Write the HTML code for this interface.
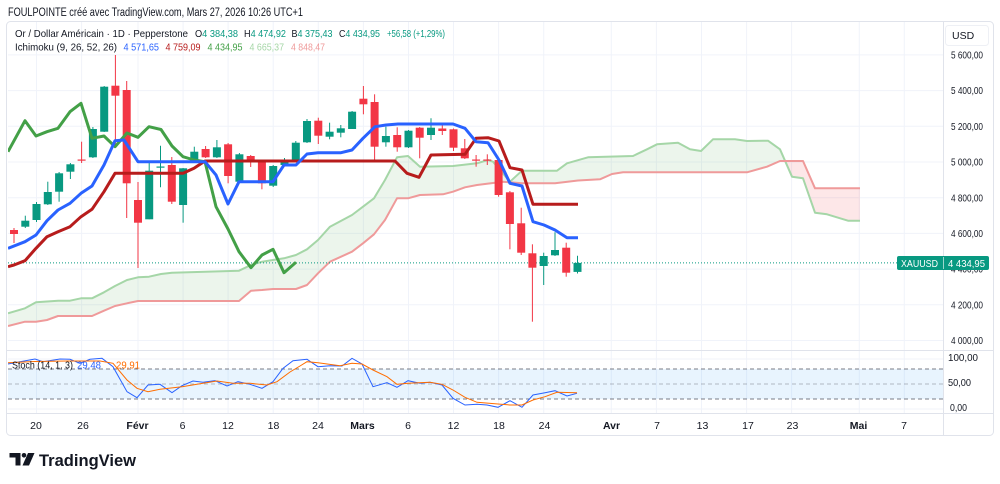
<!DOCTYPE html>
<html><head><meta charset="utf-8"><style>
html,body{margin:0;padding:0;background:#fff;}
svg{display:block;}
text{font-family:"Liberation Sans",sans-serif;}
</style></head><body>
<svg width="1000" height="484" viewBox="0 0 1000 484" xmlns="http://www.w3.org/2000/svg">
<rect x="0" y="0" width="1000" height="484" fill="#fff"/>
<!-- header -->
<text x="8" y="16" font-size="11.5" fill="#131722" textLength="295" lengthAdjust="spacingAndGlyphs">FOULPOINTE créé avec TradingView.com, Mars 27, 2026 10:26 UTC+1</text>
<!-- frame -->
<rect x="6.5" y="21.5" width="987" height="414" rx="4" fill="#fff" stroke="#e0e3eb"/>
<defs>
<clipPath id="mp"><rect x="8" y="22" width="935" height="328"/></clipPath>
<clipPath id="sp"><rect x="8" y="351" width="935" height="62"/></clipPath>
<clipPath id="gl"><rect x="0" y="0" width="786" height="484"/></clipPath>
<clipPath id="rl"><rect x="786" y="0" width="300" height="484"/></clipPath>
</defs>
<!-- grid -->
<g stroke="#f0f3fa" stroke-width="1">
<line x1="8" x2="943" y1="54.9" y2="54.9"/><line x1="8" x2="943" y1="90.6" y2="90.6"/><line x1="8" x2="943" y1="126.3" y2="126.3"/><line x1="8" x2="943" y1="162" y2="162"/><line x1="8" x2="943" y1="197.7" y2="197.7"/><line x1="8" x2="943" y1="233.4" y2="233.4"/><line x1="8" x2="943" y1="269.1" y2="269.1"/><line x1="8" x2="943" y1="304.8" y2="304.8"/><line x1="8" x2="943" y1="340.5" y2="340.5"/>
<line x1="8" x2="943" y1="359" y2="359"/><line x1="8" x2="943" y1="409" y2="409"/>
<line x1="36.5" x2="36.5" y1="22" y2="413"/><line x1="81.6" x2="81.6" y1="22" y2="413"/><line x1="138" x2="138" y1="22" y2="413"/><line x1="183.1" x2="183.1" y1="22" y2="413"/><line x1="228.1" x2="228.1" y1="22" y2="413"/><line x1="273.2" x2="273.2" y1="22" y2="413"/><line x1="318.3" x2="318.3" y1="22" y2="413"/><line x1="363.4" x2="363.4" y1="22" y2="413"/><line x1="408.5" x2="408.5" y1="22" y2="413"/><line x1="453.5" x2="453.5" y1="22" y2="413"/><line x1="498.6" x2="498.6" y1="22" y2="413"/><line x1="543.7" x2="543.7" y1="22" y2="413"/><line x1="611.3" x2="611.3" y1="22" y2="413"/><line x1="656.4" x2="656.4" y1="22" y2="413"/><line x1="701.5" x2="701.5" y1="22" y2="413"/><line x1="746.6" x2="746.6" y1="22" y2="413"/><line x1="791.6" x2="791.6" y1="22" y2="413"/><line x1="859.3" x2="859.3" y1="22" y2="413"/><line x1="904.3" x2="904.3" y1="22" y2="413"/>
</g>
<!-- separators -->
<line x1="7" x2="993" y1="350.5" y2="350.5" stroke="#e0e3eb"/>
<line x1="943.5" x2="943.5" y1="22" y2="435" stroke="#e0e3eb"/>
<line x1="7" x2="993" y1="413.5" y2="413.5" stroke="#e0e3eb"/>

<g clip-path="url(#mp)">
<!-- cloud fill -->
<g clip-path="url(#gl)"><polygon fill="rgba(67,160,71,0.1)" points="8,313.3 25,308.3 36,302.3 58,300.7 70,300.7 81,298.3 92,298.3 104,292.3 115,286 127,280 138,277.3 149,276.7 161,274 172,272.7 239,270.7 251,265 262,261.7 273,260 284,258.3 296,255 307,249.3 318,240 330,226.7 352,215 363,206.7 374,198.3 385,180 397,157.3 408,156 420,166.7 453,166 477,163.3 488,160 493,161.7 510,181.7 522,170.7 557,170.7 567,163.3 588,157.3 633,156 647,149.3 657,144.3 678,142.7 690,149.3 701,151 713,139.3 735,139.3 747,141 768,140.7 780,149.3 792,176.7 803,178.3 815,212.7 827,214.3 848,220.7 860,220.7 860,188.3 815,188.3 803,161 780,161 767,166.7 747,172.3 623,172.3 612,174 600,179.3 578,180.5 555,183.3 522,183.3 503,181.7 477,185 465,187.3 453,191.7 443,194.3 420,195 408,198.3 397,198.3 385,220 374,234.3 363,243.3 352,251.7 330,261.7 318,273.3 307,285 296,289 273,289 262,290 251,290.7 239,301 138,301 127,303.3 115,306 104,310.7 92,316 58,316 47,320 36,321.7 25,321.7 8,326"/></g>
<g clip-path="url(#rl)"><polygon fill="rgba(242,54,69,0.12)" points="780,149.3 792,176.7 803,178.3 815,212.7 827,214.3 848,220.7 860,220.7 860,188.3 815,188.3 803,161 780,161"/></g>
<!-- senkou lines -->
<polyline fill="none" stroke="#a5d6a7" stroke-width="2" stroke-linejoin="round" points="8,313.3 25,308.3 36,302.3 58,300.7 70,300.7 81,298.3 92,298.3 104,292.3 115,286 127,280 138,277.3 149,276.7 161,274 172,272.7 239,270.7 251,265 262,261.7 273,260 284,258.3 296,255 307,249.3 318,240 330,226.7 352,215 363,206.7 374,198.3 385,180 397,157.3 408,156 420,166.7 453,166 477,163.3 488,160 493,161.7 510,181.7 522,170.7 557,170.7 567,163.3 588,157.3 633,156 647,149.3 657,144.3 678,142.7 690,149.3 701,151 713,139.3 735,139.3 747,141 768,140.7 780,149.3 792,176.7 803,178.3 815,212.7 827,214.3 848,220.7 860,220.7"/>
<polyline fill="none" stroke="#ef9a9a" stroke-width="2" stroke-linejoin="round" points="8,326 25,321.7 36,321.7 47,320 58,316 92,316 104,310.7 115,306 127,303.3 138,301 239,301 251,290.7 262,290 273,289 296,289 307,285 318,273.3 330,261.7 352,251.7 363,243.3 374,234.3 385,220 397,198.3 408,198.3 420,195 443,194.3 453,191.7 465,187.3 477,185 503,181.7 522,183.3 555,183.3 578,180.5 600,179.3 612,174 623,172.3 747,172.3 767,166.7 780,161 803,161 815,188.3 860,188.3"/>
<!-- current price line -->
<line x1="8" x2="897" y1="262.9" y2="262.9" stroke="#089981" stroke-width="1" stroke-dasharray="1,2"/>
<!-- candles green -->
<g stroke="#089981" stroke-width="1">
<line x1="25.3" x2="25.3" y1="215.7" y2="228"/><line x1="36.5" x2="36.5" y1="202" y2="222"/><line x1="47.8" x2="47.8" y1="181.7" y2="205"/><line x1="59.1" x2="59.1" y1="172" y2="201.7"/><line x1="70.4" x2="70.4" y1="163" y2="179"/><line x1="92.9" x2="92.9" y1="127" y2="158"/><line x1="104.2" x2="104.2" y1="86" y2="132"/><line x1="149.2" x2="149.2" y1="163" y2="219.3"/><line x1="160.5" x2="160.5" y1="145.7" y2="187.3"/><line x1="183.1" x2="183.1" y1="168" y2="222.7"/><line x1="194.3" x2="194.3" y1="146.7" y2="163"/><line x1="216.9" x2="216.9" y1="140" y2="158"/><line x1="239.4" x2="239.4" y1="153" y2="182"/><line x1="273.2" x2="273.2" y1="165" y2="187"/><line x1="284.5" x2="284.5" y1="158" y2="166"/><line x1="295.8" x2="295.8" y1="141" y2="162"/><line x1="307" x2="307" y1="119" y2="143"/><line x1="329.6" x2="329.6" y1="122.7" y2="139.3"/><line x1="340.8" x2="340.8" y1="125" y2="137.3"/><line x1="352.1" x2="352.1" y1="111" y2="129"/><line x1="385.9" x2="385.9" y1="126.7" y2="146.7"/><line x1="408.5" x2="408.5" y1="130" y2="148"/><line x1="431" x2="431" y1="118.3" y2="140"/><line x1="543.7" x2="543.7" y1="252.7" y2="285"/><line x1="555" x2="555" y1="232.3" y2="256"/><line x1="577.5" x2="577.5" y1="255.7" y2="273.5"/>
</g>
<g fill="#089981">
<rect x="21.3" y="220.7" width="8" height="6"/><rect x="32.5" y="204" width="8" height="16"/><rect x="43.8" y="192" width="8" height="12.3"/><rect x="55.1" y="173.3" width="8" height="18.4"/><rect x="66.4" y="164.3" width="8" height="7.4"/><rect x="88.9" y="129" width="8" height="28.3"/><rect x="100.2" y="86.7" width="8" height="45"/><rect x="145.2" y="170.7" width="8" height="48.6"/><rect x="156.5" y="166.5" width="8" height="1.2"/><rect x="179.1" y="168.3" width="8" height="36.7"/><rect x="190.3" y="151.7" width="8" height="10.6"/><rect x="212.9" y="147.3" width="8" height="10"/><rect x="235.4" y="154.3" width="8" height="27.4"/><rect x="269.2" y="166" width="8" height="19.7"/><rect x="280.5" y="160.7" width="8" height="4.3"/><rect x="291.8" y="142.7" width="8" height="19"/><rect x="303" y="121" width="8" height="21.3"/><rect x="325.6" y="131.7" width="8" height="5"/><rect x="336.8" y="128.3" width="8" height="4.4"/><rect x="348.1" y="111.7" width="8" height="17.3"/><rect x="381.9" y="136" width="8" height="6.3"/><rect x="404.5" y="130.7" width="8" height="16.6"/><rect x="427" y="127.7" width="8" height="7.3"/><rect x="539.7" y="256" width="8" height="10"/><rect x="551" y="250" width="8" height="5.3"/><rect x="573.5" y="262.9" width="8" height="9"/>
</g>
<!-- candles red -->
<g stroke="#f23645" stroke-width="1">
<line x1="14" x2="14" y1="228" y2="243"/><line x1="81.6" x2="81.6" y1="141.7" y2="163"/><line x1="115.4" x2="115.4" y1="55" y2="148"/><line x1="126.7" x2="126.7" y1="81" y2="218"/><line x1="138" x2="138" y1="182" y2="268"/><line x1="171.8" x2="171.8" y1="157" y2="204"/><line x1="205.6" x2="205.6" y1="146" y2="158"/><line x1="228.1" x2="228.1" y1="143" y2="183.3"/><line x1="250.7" x2="250.7" y1="155" y2="167"/><line x1="261.9" x2="261.9" y1="160" y2="189.3"/><line x1="318.3" x2="318.3" y1="117.7" y2="144"/><line x1="363.4" x2="363.4" y1="86" y2="114.3"/><line x1="374.6" x2="374.6" y1="94.3" y2="160"/><line x1="397.2" x2="397.2" y1="127.3" y2="151.7"/><line x1="419.7" x2="419.7" y1="127" y2="158.3"/><line x1="442.3" x2="442.3" y1="122.7" y2="135"/><line x1="453.5" x2="453.5" y1="128.5" y2="151"/><line x1="464.8" x2="464.8" y1="139" y2="159"/><line x1="476.1" x2="476.1" y1="155" y2="166.7"/><line x1="487.3" x2="487.3" y1="154.3" y2="165"/><line x1="498.6" x2="498.6" y1="159" y2="196.7"/><line x1="509.9" x2="509.9" y1="191" y2="249.3"/><line x1="521.2" x2="521.2" y1="207.7" y2="255"/><line x1="532.4" x2="532.4" y1="244.3" y2="321.7"/><line x1="566.2" x2="566.2" y1="242.7" y2="276.7"/>
</g>
<g fill="#f23645">
<rect x="10" y="230" width="8" height="4"/><rect x="77.6" y="159.5" width="8" height="1.2"/><rect x="111.4" y="85.7" width="8" height="10"/><rect x="122.7" y="90" width="8" height="93.3"/><rect x="134" y="200" width="8" height="22.7"/><rect x="167.8" y="165" width="8" height="36.7"/><rect x="201.6" y="149" width="8" height="8.3"/><rect x="224.1" y="144.3" width="8" height="31.7"/><rect x="246.7" y="156" width="8" height="5"/><rect x="257.9" y="161.7" width="8" height="21.6"/><rect x="314.3" y="120.7" width="8" height="15"/><rect x="359.4" y="98.7" width="8" height="5.6"/><rect x="370.6" y="102" width="8" height="44.7"/><rect x="393.2" y="135" width="8" height="12.3"/><rect x="415.7" y="127.7" width="8" height="10"/><rect x="438.3" y="128.5" width="8" height="2.5"/><rect x="449.5" y="129.3" width="8" height="18.4"/><rect x="460.8" y="148.3" width="8" height="10"/><rect x="472.1" y="159.5" width="8" height="1.2"/><rect x="483.3" y="159.5" width="8" height="1.2"/><rect x="494.6" y="160" width="8" height="35"/><rect x="505.9" y="192.3" width="8" height="31.7"/><rect x="517.2" y="223.3" width="8" height="29.4"/><rect x="528.4" y="253.3" width="8" height="14.4"/><rect x="562.2" y="247.7" width="8" height="25"/>
</g>
<!-- ichimoku lines -->
<polyline fill="none" stroke="#43a047" stroke-width="3" stroke-linejoin="round" points="8,151.7 25,120.7 36,136 47,131.7 58,128.3 70,111.7 81,103.3 92,138.3 104,136 115,146.7 127,133 138,137.3 149,126.7 161,129.5 172,146 183,156.7 194,160 205,161.7 216,206.7 228,229 239,251.7 251,267.7 262,255 273,249.3 284,272.7 296,262.3"/>
<polyline fill="none" stroke="#b71c1c" stroke-width="3" stroke-linejoin="round" points="8,266.7 14,265 25,260.7 36,248.3 47,236.7 58,231.7 70,226.7 81,216.7 92,209.3 104,191.7 115,173.3 183,173.3 194,168.3 205,161 395,161 407,173.3 419,177.3 431,155 465,154.3 476,138.3 488,137.7 499,141 510,167.7 522,170 533,204.3 578,204.3"/>
<polyline fill="none" stroke="#2962ff" stroke-width="3" stroke-linejoin="round" points="8,248.3 25,241.7 36,235 47,220.7 58,210 70,203.3 81,193.3 92,186 104,165 115,140.7 124,140 138,161.7 205,161.7 216,175 228,204 239,181.7 273,181.7 284,165 296,165 307,154 318,152.7 341,152.7 352,150 363,138.3 375,126.7 386,125 398,124 453,124 465,128.3 476,141.7 488,142.7 499,160 510,183.3 522,186 533,221.7 544,225 555,230 567,237.7 578,237.7"/>
</g>

<!-- stochastic pane -->
<rect x="8" y="369" width="935" height="30" fill="rgba(33,150,243,0.1)"/>
<line x1="8" x2="943" y1="369" y2="369" stroke="#787b86" stroke-dasharray="4,3"/>
<line x1="8" x2="943" y1="384" y2="384" stroke="#787b86" stroke-opacity="0.5" stroke-dasharray="4,3"/>
<line x1="8" x2="943" y1="399" y2="399" stroke="#787b86" stroke-dasharray="4,3"/>
<g clip-path="url(#sp)">
<polyline fill="none" stroke="#2962ff" stroke-width="1" points="8,364 20,361.7 35,359 43,361.7 60,359 70,359.3 80,363.3 90,359.3 102,358.3 113,366.7 127,391.7 137,397.7 148,385 160,384.3 172,392.7 182,385.7 193,381 203,382.3 215,380.7 227,386 238,381.7 250,384.3 262,388.3 273,381.7 283,368.3 293,360.7 307,359.3 318,366.7 330,365.7 342,366 352,358.3 362,364 373,386.7 387,382.7 397,387.3 408,380.7 420,383.3 430,382.3 442,385 453,398.3 465,405 477,404.3 487,405 498,407.3 510,400.7 522,407.3 533,395 545,392.7 555,390.7 567,396 577,393.3"/>
<polyline fill="none" stroke="#ff6d00" stroke-width="1" points="8,362.7 35,361.5 67,361 100,361 113,363.3 127,380 137,388.3 148,391.7 160,389.3 182,386.7 203,383.3 217,381 233,383.3 250,383.3 267,385 277,381.7 290,372 300,366 307,361.7 318,362.7 340,365.7 352,363.3 362,364 373,370 387,376.7 397,384.3 408,383.3 430,382.3 442,384.3 453,390 465,397.3 477,402.3 498,404 510,405 522,405 533,400 545,396.7 557,392.3 577,392.7"/>
</g>
<text x="12" y="368.5" font-size="10.5" fill="#131722" textLength="61" lengthAdjust="spacingAndGlyphs">Stoch (14, 1, 3)</text>
<text x="77" y="368.5" font-size="10.5" fill="#2962ff" textLength="24" lengthAdjust="spacingAndGlyphs">29,48</text>
<text x="116" y="368.5" font-size="10.5" fill="#ff6d00" textLength="24" lengthAdjust="spacingAndGlyphs">29,91</text>

<!-- legend -->
<g font-size="10.5">
<text x="15" y="37" fill="#131722" textLength="173" lengthAdjust="spacingAndGlyphs">Or / Dollar Américain · 1D · Pepperstone</text>
<text x="195" y="37" textLength="43" lengthAdjust="spacingAndGlyphs"><tspan fill="#131722">O</tspan><tspan fill="#089981">4 384,38</tspan></text>
<text x="244" y="37" textLength="42" lengthAdjust="spacingAndGlyphs"><tspan fill="#131722">H</tspan><tspan fill="#089981">4 474,92</tspan></text>
<text x="291.5" y="37" textLength="41" lengthAdjust="spacingAndGlyphs"><tspan fill="#131722">B</tspan><tspan fill="#089981">4 375,43</tspan></text>
<text x="339" y="37" textLength="41" lengthAdjust="spacingAndGlyphs"><tspan fill="#131722">C</tspan><tspan fill="#089981">4 434,95</tspan></text>
<text x="387" y="37" fill="#089981" textLength="58" lengthAdjust="spacingAndGlyphs">+56,58 (+1,29%)</text>
<text x="15" y="50.5" fill="#131722" textLength="102" lengthAdjust="spacingAndGlyphs">Ichimoku (9, 26, 52, 26)</text>
<text x="123.5" y="50.5" fill="#2962ff" textLength="35.5" lengthAdjust="spacingAndGlyphs">4 571,65</text>
<text x="165.5" y="50.5" fill="#b71c1c" textLength="35" lengthAdjust="spacingAndGlyphs">4 759,09</text>
<text x="207.5" y="50.5" fill="#43a047" textLength="35" lengthAdjust="spacingAndGlyphs">4 434,95</text>
<text x="249.5" y="50.5" fill="#a5d6a7" textLength="34.5" lengthAdjust="spacingAndGlyphs">4 665,37</text>
<text x="291" y="50.5" fill="#ef9a9a" textLength="34" lengthAdjust="spacingAndGlyphs">4 848,47</text>
</g>

<!-- price axis -->
<rect x="945.5" y="25.5" width="43" height="20" rx="3" fill="#fff" stroke="#eef0f5"/>
<text x="952" y="39" font-size="10.5" fill="#131722">USD</text>
<g font-size="10.5" fill="#131722">
<text x="951" y="58.6" textLength="32" lengthAdjust="spacingAndGlyphs">5 600,00</text>
<text x="951" y="94.2" textLength="32" lengthAdjust="spacingAndGlyphs">5 400,00</text>
<text x="951" y="129.9" textLength="32" lengthAdjust="spacingAndGlyphs">5 200,00</text>
<text x="951" y="165.6" textLength="32" lengthAdjust="spacingAndGlyphs">5 000,00</text>
<text x="951" y="201.3" textLength="32" lengthAdjust="spacingAndGlyphs">4 800,00</text>
<text x="951" y="237" textLength="32" lengthAdjust="spacingAndGlyphs">4 600,00</text>
<text x="951" y="272.7" textLength="32" lengthAdjust="spacingAndGlyphs">4 400,00</text>
<text x="951" y="308.4" textLength="32" lengthAdjust="spacingAndGlyphs">4 200,00</text>
<text x="951" y="344.1" textLength="32" lengthAdjust="spacingAndGlyphs">4 000,00</text>
<text x="948" y="361" textLength="30" lengthAdjust="spacingAndGlyphs">100,00</text>
<text x="948" y="386" textLength="23" lengthAdjust="spacingAndGlyphs">50,00</text>
<text x="950" y="411" textLength="17" lengthAdjust="spacingAndGlyphs">0,00</text>
</g>
<!-- price label -->
<rect x="897" y="256" width="92" height="14" rx="2" fill="#089981"/>
<line x1="943.5" x2="943.5" y1="257" y2="269" stroke="#fff" stroke-opacity="0.6"/>
<text x="901" y="266.8" font-size="10.5" fill="#fff" textLength="37" lengthAdjust="spacingAndGlyphs">XAUUSD</text>
<text x="948" y="266.8" font-size="10.5" fill="#fff" textLength="37" lengthAdjust="spacingAndGlyphs">4 434,95</text>

<!-- time axis -->
<g font-size="10.5" fill="#131722" text-anchor="middle">
<text x="36" y="429">20</text><text x="83" y="429">26</text><text x="137.5" y="429" font-weight="bold">Févr</text><text x="182.5" y="429">6</text><text x="228" y="429">12</text><text x="273.5" y="429">18</text><text x="318" y="429">24</text><text x="362.5" y="429" font-weight="bold">Mars</text><text x="408" y="429">6</text><text x="453.5" y="429">12</text><text x="499" y="429">18</text><text x="544.5" y="429">24</text><text x="611.5" y="429" font-weight="bold">Avr</text><text x="657" y="429">7</text><text x="702.5" y="429">13</text><text x="748" y="429">17</text><text x="792.5" y="429">23</text><text x="858.5" y="429" font-weight="bold">Mai</text><text x="904" y="429">7</text>
</g>

<!-- logo -->
<g fill="#131722">
<rect x="9.5" y="453" width="11" height="4.5"/>
<rect x="15.5" y="453" width="5" height="12.5"/>
<circle cx="24" cy="455.3" r="2.3"/>
<polygon points="28,453 34.5,453 29,465.5 22.5,465.5"/>
</g>
<text x="39" y="466" font-size="17" font-weight="bold" fill="#131722" textLength="97" lengthAdjust="spacingAndGlyphs">TradingView</text>
</svg>
</body></html>
